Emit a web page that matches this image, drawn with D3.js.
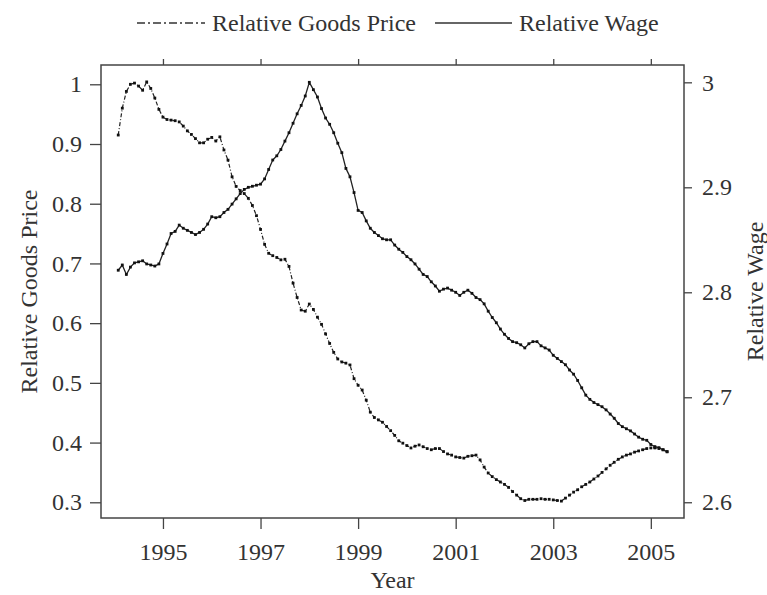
<!DOCTYPE html>
<html>
<head>
<meta charset="utf-8">
<script src="https://cdn.jsdelivr.net/npm/d3@7"></script>
<style>
  body { margin: 0; background: #fff; }
  text { font-family: "Liberation Serif", "Times New Roman", serif; fill: #333; }
</style>
</head>
<body>
<div id="chart"></div>
<script>
// monthly series, first observation Feb 1994
var startYear = 1994, startMonth = 2;

var goodsPrice = [
  0.915, 0.960, 0.988, 1.000, 1.002, 0.997, 0.990, 1.004, 0.993, 0.977, 0.958,
  0.945, 0.941, 0.940, 0.939, 0.937, 0.930, 0.922, 0.916, 0.909, 0.902, 0.902, 0.908,
  0.911, 0.905, 0.912, 0.890, 0.873, 0.845, 0.829, 0.822, 0.817, 0.809, 0.797, 0.780,
  0.757, 0.732, 0.717, 0.713, 0.710, 0.706, 0.707, 0.695, 0.667, 0.643, 0.622, 0.620,
  0.632, 0.623, 0.610, 0.598, 0.582, 0.566, 0.551, 0.540, 0.535, 0.533, 0.530, 0.507,
  0.496, 0.488, 0.471, 0.451, 0.442, 0.438, 0.434, 0.427, 0.420, 0.412, 0.403, 0.399,
  0.395, 0.391, 0.394, 0.396, 0.393, 0.390, 0.388, 0.390, 0.390, 0.385, 0.381, 0.379,
  0.376, 0.375, 0.374, 0.377, 0.378, 0.379, 0.371, 0.359, 0.349, 0.343, 0.338, 0.334,
  0.330, 0.325, 0.318, 0.312, 0.306, 0.303, 0.305, 0.305, 0.305, 0.306, 0.305, 0.305,
  0.304, 0.303, 0.302, 0.307, 0.312, 0.317, 0.321, 0.326, 0.330, 0.334, 0.339, 0.344,
  0.350, 0.356, 0.362, 0.367, 0.372, 0.376, 0.379, 0.381, 0.384, 0.386, 0.388, 0.390,
  0.391, 0.391, 0.390, 0.388, 0.385
];

var wage = [
  2.821, 2.826, 2.817, 2.824, 2.828, 2.829, 2.830, 2.827, 2.826, 2.825, 2.827,
  2.837, 2.846, 2.856, 2.858, 2.864, 2.861, 2.859, 2.857, 2.855, 2.857, 2.860, 2.865,
  2.872, 2.871, 2.872, 2.876, 2.879, 2.884, 2.889, 2.894, 2.898, 2.900, 2.901, 2.902,
  2.903, 2.908, 2.917, 2.926, 2.930, 2.936, 2.944, 2.952, 2.961, 2.970, 2.978, 2.987,
  3.000, 2.993, 2.986, 2.975, 2.966, 2.960, 2.952, 2.942, 2.933, 2.918, 2.910, 2.895,
  2.878, 2.876, 2.868, 2.861, 2.857, 2.854, 2.851, 2.850, 2.850, 2.845, 2.841, 2.838,
  2.834, 2.831, 2.827, 2.822, 2.817, 2.815, 2.810, 2.806, 2.801, 2.803, 2.804, 2.802,
  2.800, 2.797, 2.800, 2.802, 2.799, 2.795, 2.793, 2.789, 2.782, 2.776, 2.771, 2.765,
  2.760, 2.756, 2.753, 2.752, 2.750, 2.747, 2.751, 2.753, 2.753, 2.749, 2.747, 2.745,
  2.740, 2.737, 2.734, 2.731, 2.726, 2.722, 2.716, 2.709, 2.702, 2.698, 2.695, 2.693,
  2.691, 2.688, 2.684, 2.680, 2.675, 2.672, 2.670, 2.668, 2.665, 2.662, 2.660, 2.659,
  2.655, 2.653, 2.652, 2.650, 2.648
];

var yearTicks = [1995, 1997, 1999, 2001, 2003, 2005];
var priceTicks = [0.3, 0.4, 0.5, 0.6, 0.7, 0.8, 0.9, 1];
var wageTicks = [2.6, 2.7, 2.8, 2.9, 3];

var margin = {top: 65, right: 83, bottom: 77, left: 101},
    width = 767 - margin.left - margin.right,
    height = 595 - margin.top - margin.bottom;

var svg = d3.select("#chart").append("svg")
    .attr("width", 767)
    .attr("height", 595);

var g = svg.append("g")
    .attr("transform", "translate(" + margin.left + "," + margin.top + ")");

var x = d3.scaleLinear().domain([1993.73, 2005.68]).range([0, width]);
var yL = d3.scaleLinear().domain([0.2737, 1.0323]).range([height, 0]);
var yR = d3.scaleLinear().domain([2.585, 3.0165]).range([height, 0]);

function when(i) { return startYear + (startMonth - 1 + i) / 12; }
function fmt(d) { return d === Math.round(d) ? String(d) : d.toFixed(1); }

var goodsData = goodsPrice.map(function(v, i){ return {t: when(i), v: v}; });
var wageData = wage.map(function(v, i){ return {t: when(i), v: v}; });

// axes
var axL = g.append("g")
    .call(d3.axisLeft(yL).tickValues(priceTicks).tickFormat(fmt).tickSize(11).tickPadding(8));
var axR = g.append("g")
    .attr("transform", "translate(" + width + ",0)")
    .call(d3.axisRight(yR).tickValues(wageTicks).tickFormat(fmt).tickSize(8).tickPadding(10));
var axB = g.append("g")
    .attr("transform", "translate(0," + height + ")")
    .call(d3.axisBottom(x).tickValues(yearTicks).tickFormat(d3.format("d")).tickSize(11).tickPadding(14));
var axT = g.append("g")
    .call(d3.axisTop(x).tickValues(yearTicks).tickFormat("").tickSize(6));

[axL, axR, axB, axT].forEach(function(a){
  a.select(".domain").remove();
  a.selectAll(".tick line").attr("stroke", "#444").attr("stroke-width", 1.3);
  a.selectAll(".tick text").style("font-size", "24px").attr("fill", "#333");
});

g.append("rect")
    .attr("width", width)
    .attr("height", height)
    .attr("fill", "none")
    .attr("stroke", "#444")
    .attr("stroke-width", 1.5);

// lines
var lineL = d3.line().x(function(d){ return x(d.t); }).y(function(d){ return yL(d.v); });
var lineR = d3.line().x(function(d){ return x(d.t); }).y(function(d){ return yR(d.v); });

g.append("path")
    .datum(goodsData)
    .attr("d", lineL)
    .attr("fill", "none")
    .attr("stroke", "#222")
    .attr("stroke-width", 1.2)
    .attr("stroke-dasharray", "4,2,1,2");

g.append("path")
    .datum(wageData)
    .attr("d", lineR)
    .attr("fill", "none")
    .attr("stroke", "#222")
    .attr("stroke-width", 1.3);

g.selectAll(".gdot")
    .data(goodsData)
  .enter().append("rect")
    .attr("class", "gdot")
    .attr("x", function(d){ return x(d.t) - 1.4; })
    .attr("y", function(d){ return yL(d.v) - 1.4; })
    .attr("width", 2.8)
    .attr("height", 2.8)
    .attr("fill", "#111");

g.selectAll(".wdot")
    .data(wageData)
  .enter().append("rect")
    .attr("class", "wdot")
    .attr("x", function(d){ return x(d.t) - 1.4; })
    .attr("y", function(d){ return yR(d.v) - 1.4; })
    .attr("width", 2.8)
    .attr("height", 2.8)
    .attr("fill", "#111");

// axis titles
svg.append("text")
    .attr("transform", "translate(37," + (margin.top + height / 2) + ") rotate(-90)")
    .attr("text-anchor", "middle")
    .style("font-size", "24px")
    .text("Relative Goods Price");

svg.append("text")
    .attr("transform", "translate(763," + (margin.top + height / 2) + ") rotate(-90)")
    .attr("text-anchor", "middle")
    .style("font-size", "24px")
    .text("Relative Wage");

svg.append("text")
    .attr("x", margin.left + width / 2)
    .attr("y", 588)
    .attr("text-anchor", "middle")
    .style("font-size", "24px")
    .text("Year");

// legend
var legend = svg.append("g");
legend.append("line")
    .attr("x1", 137).attr("x2", 205).attr("y1", 23).attr("y2", 23)
    .attr("stroke", "#333").attr("stroke-width", 1.3)
    .attr("stroke-dasharray", "8,3,2,3");
legend.append("text")
    .attr("x", 212).attr("y", 31)
    .style("font-size", "24px")
    .text("Relative Goods Price");
legend.append("line")
    .attr("x1", 435).attr("x2", 512).attr("y1", 23).attr("y2", 23)
    .attr("stroke", "#333").attr("stroke-width", 1.3);
legend.append("text")
    .attr("x", 519).attr("y", 31)
    .style("font-size", "24px")
    .text("Relative Wage");
</script>
</body>
</html>
